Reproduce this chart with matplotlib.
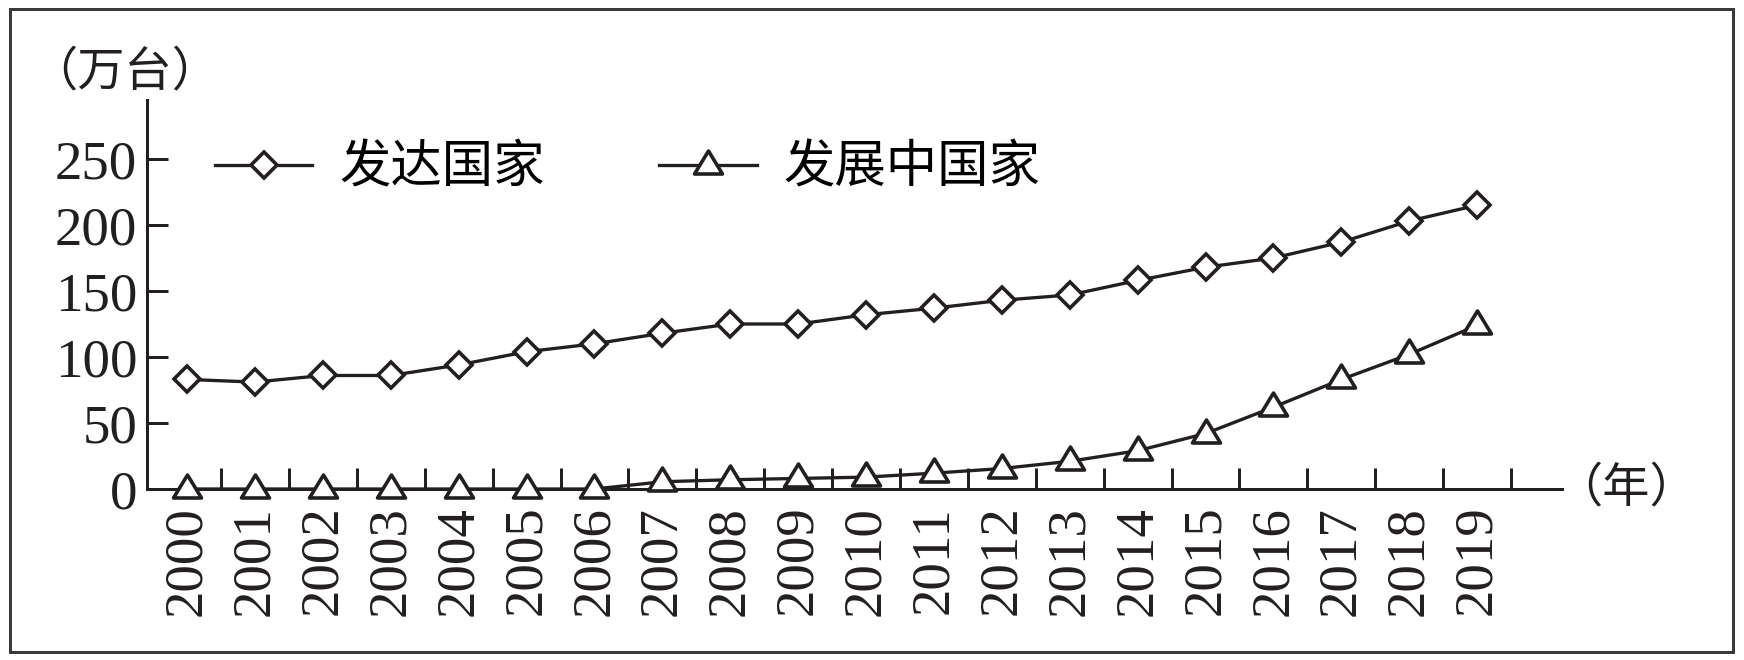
import matplotlib
matplotlib.use('Agg')
import matplotlib.pyplot as plt
from matplotlib.patches import Rectangle
from matplotlib.path import Path
from matplotlib.font_manager import FontProperties
import numpy as np

# 数据（万台）
years = [str(y) for y in range(2000, 2020)]
developed = [83, 81, 86, 86, 94, 104, 110, 118, 125, 125,
             132, 137, 143, 147, 158, 168, 175, 187, 203, 215]
developing = [0, 0, 0, 0, 0, 0, 0, 5.5, 7, 8,
              9, 12, 15.5, 21, 29, 42, 62, 83, 102, 124]
series_names = ['发达国家', '发展中国家']
y_ticks = [0, 50, 100, 150, 200, 250]

ink = '#231f20'
cjk = ['Noto Sans CJK SC', 'DejaVu Sans']
num_font = 'Liberation Serif'
px = 72 / 100  # pixel -> point at dpi 100

fig = plt.figure(figsize=(17.44, 6.6), dpi=100)
ax = fig.add_axes([147 / 1744, 171 / 660, (1562 - 147) / 1744, (489 - 100) / 660])

x = np.arange(len(years))
# closed triangle, a bit below its centre on the data point
tri = Path([(-14, -8.5), (14, -8.5), (0, 14.5), (-14, -8.5)],
           [Path.MOVETO, Path.LINETO, Path.LINETO, Path.CLOSEPOLY])

ax.plot(x, developed, color=ink, lw=3.3 * px, marker='D', ms=18.4 * px,
        mfc='white', mec=ink, mew=3.6 * px, clip_on=False, zorder=3,
        label=series_names[0])
ax.plot(x, developing, color=ink, lw=3.3 * px, marker=tri, ms=29 * px,
        mfc='white', mec=ink, mew=3.6 * px, clip_on=False, zorder=3,
        label=series_names[1])

ax.set_xlim(-0.59, 20.25)
ax.set_ylim(0, 294.7)

for s in ['top', 'right']:
    ax.spines[s].set_visible(False)
for s in ['left', 'bottom']:
    ax.spines[s].set_linewidth(3 * px)
    ax.spines[s].set_color(ink)

ax.set_yticks(y_ticks)
ax.set_yticklabels([str(v) for v in y_ticks], fontfamily=num_font, fontsize=39.5)
ax.tick_params(axis='y', direction='in', length=21 * px, width=3 * px,
               color=ink, pad=7, labelcolor=ink)

ax.set_xticks(x)
ax.set_xticklabels(years, rotation=90, fontfamily=num_font, fontsize=39.5)
ax.set_xticks(x + 0.5, minor=True)
ax.tick_params(axis='x', which='major', length=0, pad=12, labelcolor=ink)
ax.tick_params(axis='x', which='minor', direction='in', length=21 * px,
               width=3 * px, color=ink)

ax.legend(loc='center left', bbox_to_anchor=(215 / 1744, 1 - 168 / 660),
          bbox_transform=fig.transFigure, ncol=2, frameon=False,
          prop=FontProperties(family=cjk, size=37), borderpad=0,
          borderaxespad=0, handlelength=1.89, handletextpad=0.53,
          columnspacing=2.23, numpoints=1)

fig.text(30 / 1744, 1 - 72 / 660, '（万台）', family=cjk, fontsize=34,
         color=ink, ha='left', va='center')
fig.text(1555 / 1744, 1 - 488 / 660, '（年）', family=cjk, fontsize=34,
         color=ink, ha='left', va='center')

# outer frame
fig.patches.append(Rectangle((10 / 1744, 8 / 660), 1723 / 1744, 643 / 660,
                             transform=fig.transFigure, fill=False,
                             edgecolor='#3a3a3a', lw=3 * px))

fig.savefig('out.png', dpi=100)
